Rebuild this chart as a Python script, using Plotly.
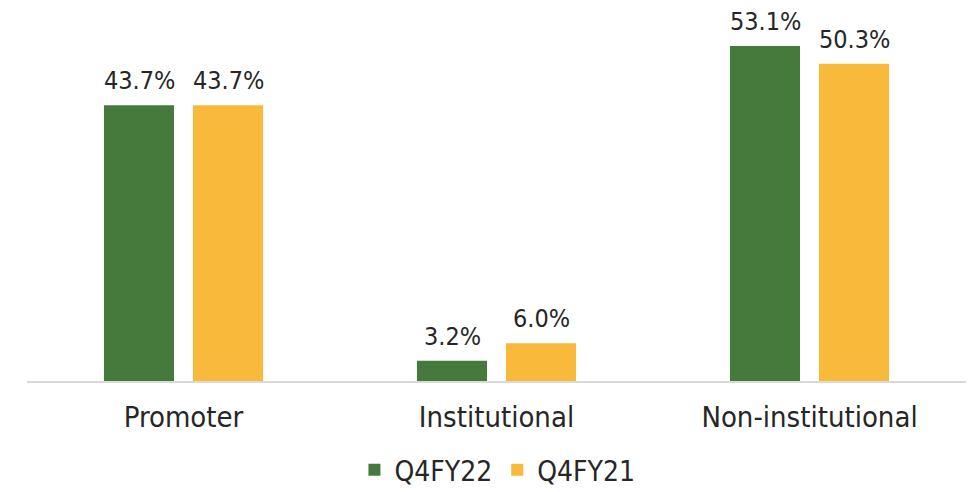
import plotly.graph_objects as go

categories = ["Promoter", "Institutional", "Non-institutional"]
q4fy22 = [43.7, 3.2, 53.1]
q4fy21 = [43.7, 6.0, 50.3]
series_names = ["Q4FY22", "Q4FY21"]

GREEN = "#467A3D"
YELLOW = "#F9BA3C"
TXT = "#262626"
FONT = "DejaVu Sans Condensed"

fig = go.Figure()
series = [(series_names[0], q4fy22, GREEN, -44.5), (series_names[1], q4fy21, YELLOW, 44.5)]
for name, vals, col, dx in series:
    fig.add_trace(go.Bar(
        x=categories, y=vals, name=name, marker_color=col, marker_line_width=0,
    ))
    for c, v in zip(categories, vals):
        fig.add_annotation(x=c, y=v, text=f"{v:.1f}%", showarrow=False,
                           xanchor="center", yanchor="bottom", xshift=dx, yshift=8,
                           font=dict(family=FONT, size=25, color=TXT))

fig.update_layout(
    width=979, height=492,
    margin=dict(l=19, r=21, t=2, b=119, autoexpand=False),
    plot_bgcolor="white", paper_bgcolor="white",
    barmode="group", bargap=0.431, bargroupgap=0.213,
    font=dict(family=FONT, size=28, color=TXT),
    showlegend=True,
    legend=dict(orientation="h", x=0.501, xanchor="center", y=-0.24, yanchor="middle",
                font=dict(family=FONT, size=28, color=TXT), itemwidth=30, traceorder="normal"),
    xaxis=dict(showline=True, linecolor="#D9D9D9", linewidth=2, ticks="outside", automargin=False,
               tickcolor="rgba(0,0,0,0)", ticklen=9, tickfont=dict(family=FONT, size=29, color=TXT)),
    yaxis=dict(range=[0, 58.8], visible=False, showgrid=False, automargin=False),
)

fig.write_html("out.html")
